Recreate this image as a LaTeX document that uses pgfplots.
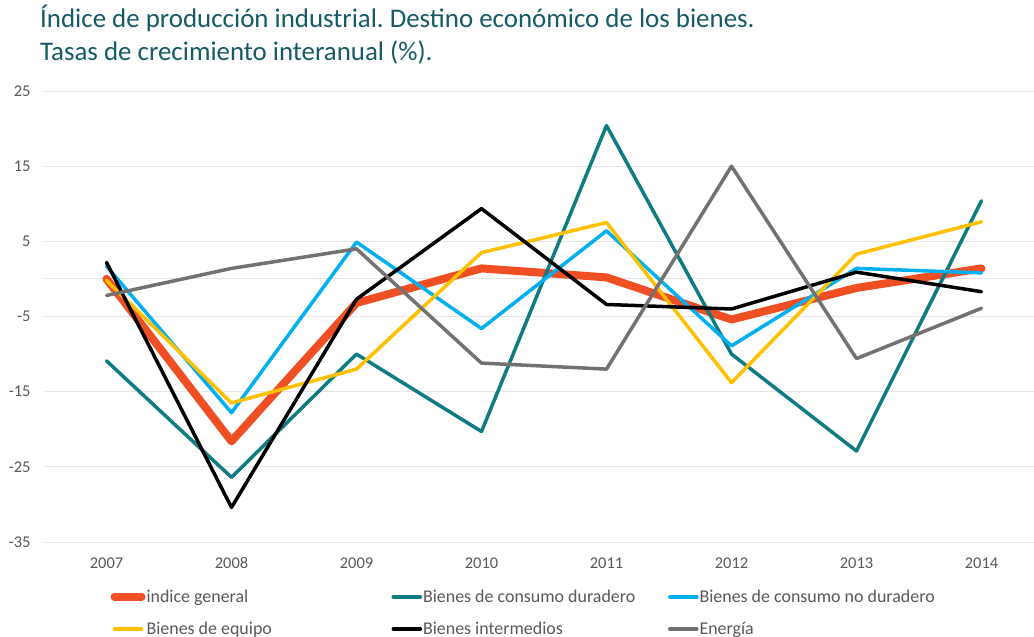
\documentclass[border=0pt]{standalone}
\usepackage{fontspec}
\setmainfont{Carlito}
\usepackage{pgfplots}
\pgfplotsset{compat=1.18}
\definecolor{cgen}{HTML}{F04E23}
\definecolor{cdur}{HTML}{117B84}
\definecolor{cnodur}{HTML}{00B0F0}
\definecolor{cequ}{HTML}{FFC000}
\definecolor{cint}{HTML}{000000}
\definecolor{cene}{HTML}{767171}
\definecolor{ctitle}{HTML}{155A66}
\definecolor{ctxt}{HTML}{595959}
\definecolor{cgrid}{HTML}{E6E6E6}
\newcommand{\lb}[1]{\makebox[244bp][l]{#1}}
\begin{document}
\frenchspacing
\begin{tikzpicture}
\path[use as bounding box] (-44bp,-95bp) rectangle (990bp,542bp);
\node[anchor=base west, text=ctitle, font=\fontsize{27}{30}\selectfont, inner sep=0pt] at (-4bp,514bp) {Índice de producción industrial. Destino económico de los bienes.};
\node[anchor=base west, text=ctitle, font=\fontsize{27}{30}\selectfont, inner sep=0pt] at (-4bp,481bp) {Tasas de crecimiento interanual (\%).};
\begin{axis}[
  at={(0bp,0bp)}, anchor=south west,
  scale only axis, width=990bp, height=451bp,
  xmin=-0.5, xmax=7.42, ymin=-35, ymax=25,
  xtick={0,...,7}, xticklabels={2007,2008,2009,2010,2011,2012,2013,2014},
  ytick={-35,-25,-15,-5,5,15,25},
  extra y ticks={0}, extra y tick labels={},
  extra y tick style={grid=major},
  ymajorgrids, grid style={cgrid, line width=1bp},
  axis line style={draw=none}, major tick length=0pt,
  tick label style={font=\fontsize{16.5}{18}\selectfont, text=ctxt, /pgf/number format/assume math mode=true},
  yticklabel style={xshift=-10bp},
  xticklabel style={text height=11bp, text depth=0bp, yshift=-12bp},
  clip=false,
  every axis plot/.append style={line join=round, line cap=round},
  legend columns=3,
  legend cell align=left,
  legend image code/.code={\draw[#1] (0bp,0bp) -- (27bp,0bp);},
  legend style={at={(axis description cs:0.064,-0.099)}, anchor=north west, draw=none,
    font=\fontsize{18}{20}\selectfont, text=ctxt, row sep=16bp,
    nodes={inner sep=1bp, xshift=-9bp}},
]
\addplot[cgen, line width=8bp] coordinates {(0,0.0)(1,-21.6)(2,-3.2)(3,1.4)(4,0.2)(5,-5.4)(6,-1.2)(7,1.4)};
\addplot[cdur, line width=3.5bp] coordinates {(0,-10.9)(1,-26.4)(2,-10.0)(3,-20.3)(4,20.4)(5,-10.0)(6,-22.9)(7,10.4)};
\addplot[cnodur, line width=3.5bp] coordinates {(0,1.7)(1,-17.8)(2,4.9)(3,-6.6)(4,6.4)(5,-8.9)(6,1.4)(7,0.8)};
\addplot[cequ, line width=3.5bp] coordinates {(0,-0.2)(1,-16.5)(2,-12.0)(3,3.5)(4,7.5)(5,-13.8)(6,3.3)(7,7.6)};
\addplot[cint, line width=3.5bp] coordinates {(0,2.2)(1,-30.4)(2,-2.7)(3,9.35)(4,-3.4)(5,-4.0)(6,0.9)(7,-1.7)};
\addplot[cene, line width=3.5bp] coordinates {(0,-2.2)(1,1.4)(2,4.0)(3,-11.2)(4,-12.0)(5,15.0)(6,-10.6)(7,-3.9)};
\legend{\lb{indice general}, \lb{Bienes de consumo duradero}, Bienes de consumo no duradero, \lb{Bienes de equipo}, \lb{Bienes intermedios}, Energía}
\end{axis}
\end{tikzpicture}
\end{document}
